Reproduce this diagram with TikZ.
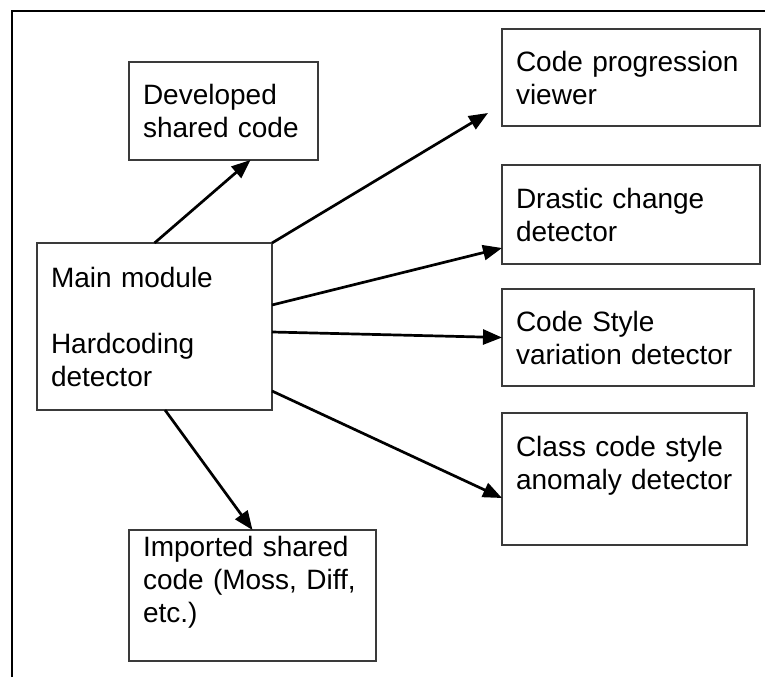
\documentclass[tikz,border=0pt]{standalone}
\usepackage{fontspec}
\setmainfont{Liberation Sans}
\usetikzlibrary{
  positioning, arrows.meta, calc
}
\definecolor{boxline}{HTML}{3A3A3A}

\begin{document}
\begin{tikzpicture}[
      x=1pt, y=-1pt,
      every node/.style={font=\fontsize{28}{33}\selectfont},
      modbox/.style={draw=boxline, line width=1.3pt, align=left, inner xsep=14pt, inner ysep=0pt, outer sep=0pt},
      >={Triangle[length=19pt,width=15pt]},
    ]
    \useasboundingbox (0,0) rectangle (765,677);
    \draw[line width=2.6pt] (12,677) -- (12,11) -- (765,11);

    \node[modbox, text width=161pt, minimum height=98pt] (dev) at (223.5,111)
      {Developed\\shared code};
    \node[modbox, text width=207pt, minimum height=167pt] (main) at (154.5,326.5)
      {Main module\\[33pt]Hardcoding\\detector};
    \node[modbox, text width=219pt, minimum height=131pt] (imp) at (252.5,595.5)
      {Imported shared\\code (Moss, Diff,\\etc.)\\\mbox{}};

    \node[modbox, text width=230pt, minimum height=97pt] (prog) at (631,77.5)
      {Code progression\\viewer};
    \node[modbox, text width=230pt, minimum height=99pt] (drastic) at (631,214.5)
      {Drastic change\\detector};
    \node[modbox, text width=224pt, minimum height=97pt] (style) at (628,337.5)
      {Code Style\\variation detector};
    \node[modbox, text width=217pt, minimum height=132pt] (class) at (624.5,479)
      {Class code style\\anomaly detector\\\mbox{}};

    \draw[->, line width=2.7pt] (main.north) -- ([xshift=27pt]dev.south);
    \draw[->, line width=2.7pt] (main.north east) -- ([xshift=-14pt,yshift=13pt]prog.south west);
    \draw[->, line width=2.7pt] ([yshift=21.5pt]main.east) -- ([yshift=16pt]drastic.south west);
    \draw[->, line width=2.7pt] ([yshift=-5.5pt]main.east) -- (style.west);
    \draw[->, line width=2.7pt] ([yshift=19pt]main.south east) -- ([yshift=47pt]class.south west);
    \draw[->, line width=2.7pt] ([xshift=10.5pt]main.south) -- (imp.north);
  \end{tikzpicture}
\end{document}
